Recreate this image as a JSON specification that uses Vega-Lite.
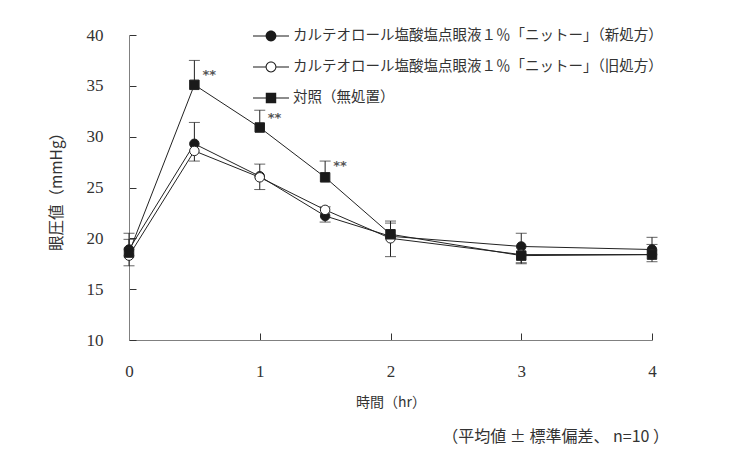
{
  "$schema": "https://vega.github.io/schema/vega-lite/v6.json",
  "width": 523,
  "height": 305,
  "autosize": "none",
  "padding": {"left": 129, "top": 35, "right": 86, "bottom": 114},
  "background": "white",
  "config": {
    "view": {"stroke": null},
    "axis": {
      "grid": false,
      "domainColor": "#808080",
      "domainWidth": 1,
      "tickColor": "#333333",
      "tickWidth": 1,
      "tickSize": -7,
      "labelFont": "Liberation Serif",
      "labelFontSize": 17,
      "labelColor": "#333333",
      "labelFlush": false,
      "titleFont": "Noto Sans CJK JP",
      "titleFontSize": 14,
      "titleFontWeight": "normal",
      "titleColor": "#333333"
    }
  },
  "title": {
    "text": "（平均値 ± 標準偏差、 n=10 ）",
    "orient": "bottom",
    "anchor": "end",
    "font": "Noto Sans CJK JP",
    "fontSize": 16,
    "fontWeight": "normal",
    "color": "#333333",
    "offset": 20,
    "dx": 6
  },
  "datasets": {
    "pts": [
      {"t": 0, "g": "A", "mean": 18.9, "err": 19.9},
      {"t": 0.5, "g": "A", "mean": 29.3, "err": 31.4},
      {"t": 1, "g": "A", "mean": 26.1, "err": 27.3},
      {"t": 1.5, "g": "A", "mean": 22.2, "err": 21.6},
      {"t": 2, "g": "A", "mean": 20.2, "err": 21.5},
      {"t": 3, "g": "A", "mean": 19.2, "err": 20.5},
      {"t": 4, "g": "A", "mean": 18.9, "err": 20.1},
      {"t": 0, "g": "B", "mean": 18.3, "err": 17.3},
      {"t": 0.5, "g": "B", "mean": 28.6, "err": 27.6},
      {"t": 1, "g": "B", "mean": 26.0, "err": 24.8},
      {"t": 1.5, "g": "B", "mean": 22.8, "err": 23.1},
      {"t": 2, "g": "B", "mean": 20.0, "err": 18.2},
      {"t": 3, "g": "B", "mean": 18.4, "err": 17.5},
      {"t": 4, "g": "B", "mean": 18.4, "err": 17.7},
      {"t": 0, "g": "C", "mean": 18.6, "err": 20.5},
      {"t": 0.5, "g": "C", "mean": 35.1, "err": 37.5},
      {"t": 1, "g": "C", "mean": 30.9, "err": 32.6},
      {"t": 1.5, "g": "C", "mean": 26.0, "err": 27.6},
      {"t": 2, "g": "C", "mean": 20.4, "err": 21.7},
      {"t": 3, "g": "C", "mean": 18.3, "err": 17.6},
      {"t": 4, "g": "C", "mean": 18.4, "err": 19.4}
    ],
    "ann": [
      {"t": 0.5, "y": 36.1, "label": "**"},
      {"t": 1, "y": 31.8, "label": "**"},
      {"t": 1.5, "y": 27.1, "label": "**"}
    ]
  },
  "data": {"name": "pts"},
  "transform": [
    {"lookup": "g", "from": {"data": {"values": [
      {"g": "A", "name": "カルテオロール塩酸塩点眼液１％「ニットー」（新処方）"},
      {"g": "B", "name": "カルテオロール塩酸塩点眼液１％「ニットー」（旧処方）"},
      {"g": "C", "name": "対照（無処置）"}
    ]}, "key": "g", "fields": ["name"]}}
  ],
  "resolve": {"scale": {"shape": "independent"}, "legend": {"shape": "independent"}},
  "layer": [
    {
      "mark": {"type": "rule", "color": "#222222", "strokeWidth": 1},
      "encoding": {
        "x": {"field": "t", "type": "quantitative"},
        "y": {"field": "mean", "type": "quantitative"},
        "y2": {"field": "err"},
        "detail": {"field": "g"}
      }
    },
    {
      "mark": {"type": "tick", "orient": "horizontal", "color": "#222222", "thickness": 1, "size": 11},
      "encoding": {
        "x": {"field": "t", "type": "quantitative"},
        "y": {"field": "err", "type": "quantitative"},
        "detail": {"field": "g"}
      }
    },
    {
      "mark": {"type": "line", "color": "#222222", "strokeWidth": 1},
      "encoding": {
        "x": {"field": "t", "type": "quantitative"},
        "y": {"field": "mean", "type": "quantitative"},
        "detail": {"field": "g"}
      }
    },
    {
      "mark": {"type": "point", "filled": false, "stroke": "#222222", "strokeWidth": 1, "opacity": 1},
      "encoding": {
        "x": {
          "field": "t", "type": "quantitative",
          "scale": {"domain": [0, 4], "nice": false, "zero": false},
          "axis": {"values": [0, 1, 2, 3, 4], "title": "時間（hr）", "labelPadding": 30, "titlePadding": 16, "format": "d"}
        },
        "y": {
          "field": "mean", "type": "quantitative",
          "scale": {"domain": [10, 40], "nice": false, "zero": false},
          "axis": {"values": [10, 15, 20, 25, 30, 35, 40], "title": "眼圧値（mmHg）", "titleFontSize": 15.5, "labelPadding": 33, "titlePadding": 22, "format": "d"}
        },
        "shape": {
          "field": "name", "type": "nominal",
          "scale": {
            "domain": ["カルテオロール塩酸塩点眼液１％「ニットー」（新処方）", "カルテオロール塩酸塩点眼液１％「ニットー」（旧処方）", "対照（無処置）"],
            "range": ["circle", "circle", "square"]
          },
          "legend": null
        },
        "fill": {
          "field": "name", "type": "nominal",
          "scale": {
            "domain": ["カルテオロール塩酸塩点眼液１％「ニットー」（新処方）", "カルテオロール塩酸塩点眼液１％「ニットー」（旧処方）", "対照（無処置）"],
            "range": ["#1a1a1a", "#ffffff", "#1a1a1a"]
          },
          "legend": null
        },
        "size": {"value": 90}
      }
    },
    {
      "mark": {"type": "point", "filled": true, "fill": "#1a1a1a", "strokeWidth": 0, "opacity": 0},
      "encoding": {
        "x": {"field": "t", "type": "quantitative"},
        "y": {"field": "mean", "type": "quantitative"},
        "shape": {
          "field": "name", "type": "nominal",
          "scale": {
            "domain": ["カルテオロール塩酸塩点眼液１％「ニットー」（新処方）", "カルテオロール塩酸塩点眼液１％「ニットー」（旧処方）", "対照（無処置）"],
            "range": [
              "M-1,-0.028H1V0.028H-1ZM0.3,0A0.3,0.3,0,1,1,-0.3,0A0.3,0.3,0,1,1,0.3,0Z",
              "M-1,-0.028H-0.29V0.028H-1ZM0.29,-0.028H1V0.028H0.29ZM0.3,0A0.3,0.3,0,1,1,-0.3,0A0.3,0.3,0,1,1,0.3,0ZM0.245,0A0.245,0.245,0,1,0,-0.245,0A0.245,0.245,0,1,0,0.245,0Z",
              "M-1,-0.028H1V0.028H-1ZM-0.29,-0.29H0.29V0.29H-0.29Z"
            ]
          },
          "legend": {
            "title": null,
            "orient": "none",
            "legendX": 124,
            "legendY": -17,
            "labelFont": "Noto Sans CJK JP",
            "labelFontSize": 14.5,
            "labelColor": "#333333",
            "labelLimit": 600,
            "symbolSize": 1296,
            "symbolFillColor": "#1a1a1a",
            "symbolStrokeWidth": 0,
            "symbolOpacity": 1,
            "rowPadding": 6,
            "labelOffset": 4
          }
        }
      }
    },
    {
      "data": {"name": "ann"},
      "mark": {"type": "text", "align": "left", "baseline": "middle", "dx": 8, "font": "DejaVu Sans", "fontSize": 13, "fontWeight": "bold", "color": "#555555"},
      "encoding": {
        "x": {"field": "t", "type": "quantitative"},
        "y": {"field": "y", "type": "quantitative"},
        "text": {"field": "label"}
      }
    }
  ]
}
